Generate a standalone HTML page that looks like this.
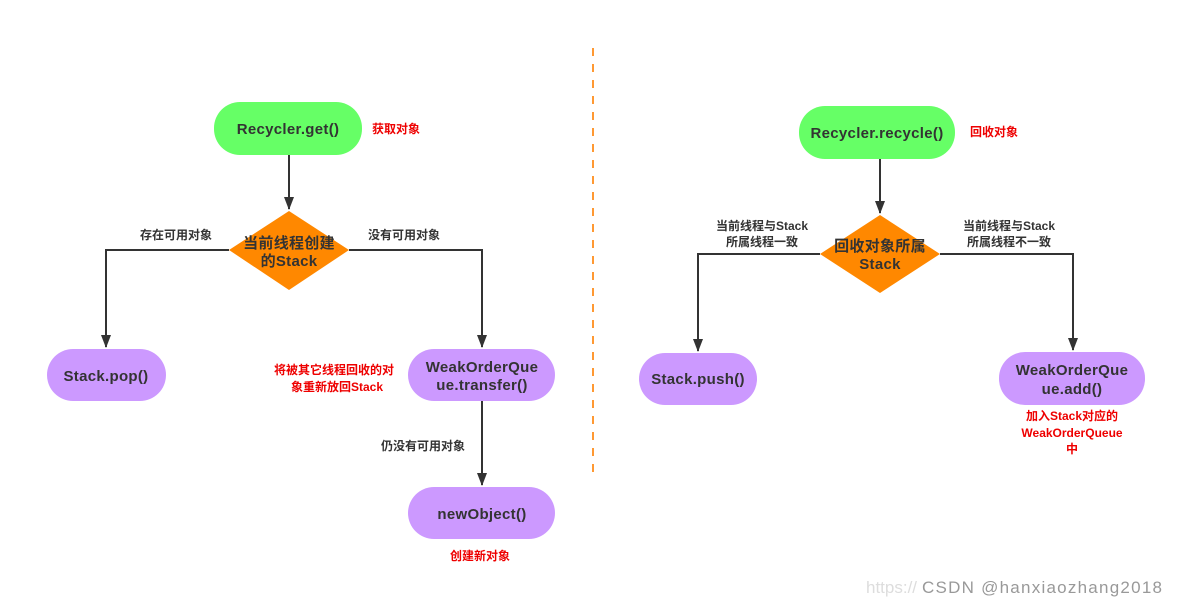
<!DOCTYPE html>
<html><head><meta charset="utf-8"><style>
html,body{margin:0;padding:0;background:#fff;}
svg{display:block;font-family:"Liberation Sans","Noto Sans CJK SC",sans-serif;font-weight:bold;}
</style></head><body>
<svg width="1177" height="607" viewBox="0 0 1177 607" xmlns="http://www.w3.org/2000/svg">
<g stroke="#333" stroke-width="2" fill="none">
<path d="M289,155 V209" />
<path d="M229,250 H106 V347" />
<path d="M349,250 H482 V347" />
<path d="M482,401 V485" />
<path d="M880,159 V213" />
<path d="M820,254 H698 V351" />
<path d="M940,254 H1073 V350" />
</g>
<g fill="#333">
<path d="M284,197 h10 l-5,13z"/><path d="M101,335 h10 l-5,13z"/><path d="M477,335 h10 l-5,13z"/><path d="M477,473 h10 l-5,13z"/>
<path d="M875,201 h10 l-5,13z"/><path d="M693,339 h10 l-5,13z"/><path d="M1068,338 h10 l-5,13z"/>
</g>
<line x1="593" y1="48" x2="593" y2="476" stroke="#ff9933" stroke-width="2" stroke-dasharray="8,8"/>
<rect x="214" y="102" width="148" height="53" rx="26" fill="#66ff66"/>
<rect x="799" y="106" width="156" height="53" rx="26" fill="#66ff66"/>
<polygon points="289,211 349,250 289,290 229,250" fill="#ff8800"/>
<polygon points="880,215 940,254 880,293 820,254" fill="#ff8800"/>
<rect x="47" y="349" width="119" height="52" rx="26" fill="#cc99ff"/>
<rect x="408" y="349" width="147" height="52" rx="26" fill="#cc99ff"/>
<rect x="408" y="487" width="147" height="52" rx="26" fill="#cc99ff"/>
<rect x="639" y="353" width="118" height="52" rx="26" fill="#cc99ff"/>
<rect x="999" y="352" width="146" height="53" rx="26" fill="#cc99ff"/>
<g fill="#333" font-size="15" text-anchor="middle" letter-spacing="0.3">
<text x="288" y="134">Recycler.get()</text>
<text x="877" y="138">Recycler.recycle()</text>
<text x="289" y="248">当前线程创建</text>
<text x="289" y="266">的Stack</text>
<text x="880" y="251">回收对象所属</text>
<text x="880" y="269">Stack</text>
<text x="106" y="381">Stack.pop()</text>
<text x="482" y="372">WeakOrderQue</text>
<text x="482" y="390">ue.transfer()</text>
<text x="482" y="519">newObject()</text>
<text x="698" y="384">Stack.push()</text>
<text x="1072" y="375">WeakOrderQue</text>
<text x="1072" y="394">ue.add()</text>
</g>
<g fill="#333" font-size="12" text-anchor="middle">
<text x="176" y="239">存在可用对象</text>
<text x="404" y="239">没有可用对象</text>
<text x="423" y="450">仍没有可用对象</text>
<text x="762" y="230">当前线程与Stack</text>
<text x="762" y="246">所属线程一致</text>
<text x="1009" y="230">当前线程与Stack</text>
<text x="1009" y="246">所属线程不一致</text>
</g>
<g fill="#e00" font-size="12" text-anchor="middle">
<text x="396" y="133">获取对象</text>
<text x="994" y="136">回收对象</text>
<text x="334" y="374">将被其它线程回收的对</text>
<text x="337" y="391">象重新放回Stack</text>
<text x="480" y="560">创建新对象</text>
<text x="1072" y="420">加入Stack对应的</text>
<text x="1072" y="437">WeakOrderQueue</text>
<text x="1072" y="453">中</text>
</g>
<text x="866" y="593" fill="#ddd" font-size="17" font-weight="normal">https://</text>
<text x="922" y="593" fill="#999" font-size="17" font-weight="normal" textLength="240">CSDN @hanxiaozhang2018</text>
</svg>
</body></html>
